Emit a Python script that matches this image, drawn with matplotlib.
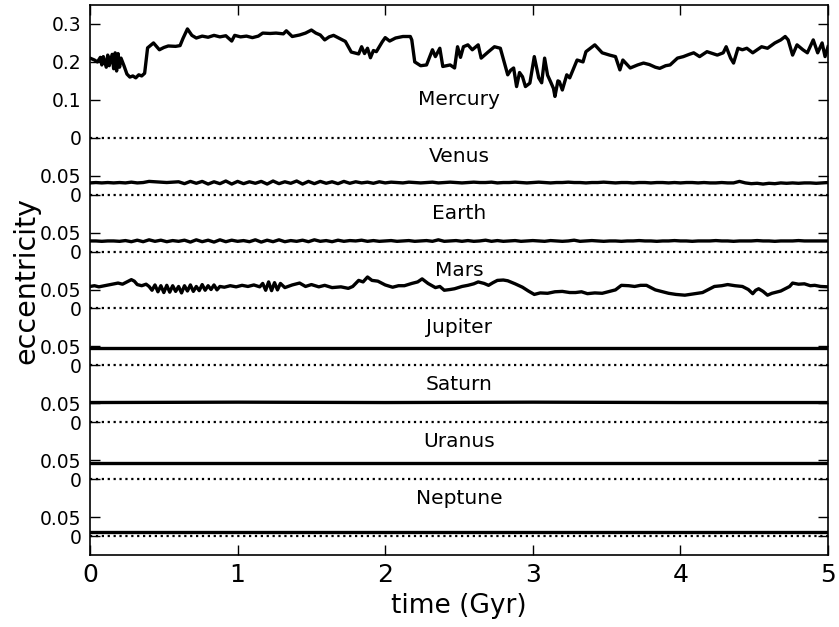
import numpy as np
import matplotlib
matplotlib.use("Agg")
import matplotlib.pyplot as plt

planets = ["Mercury", "Venus", "Earth", "Mars", "Jupiter", "Saturn", "Uranus", "Neptune"]
spacing = 0.15  # vertical offset between stacked planets below Mercury

merc_t = [0.00, 0.03, 0.05, 0.07, 0.08, 0.09, 0.11, 0.12, 0.13, 0.15, 0.16, 0.17, 0.18, 0.19,
          0.20, 0.21, 0.23, 0.25, 0.27, 0.29, 0.31, 0.33, 0.35, 0.37, 0.39, 0.43, 0.47, 0.50,
          0.53, 0.58, 0.61, 0.63, 0.66, 0.69, 0.72, 0.76, 0.80, 0.84, 0.88, 0.92, 0.96, 0.98,
          1.02, 1.06, 1.10, 1.14, 1.17, 1.22, 1.26, 1.31, 1.33, 1.37, 1.42, 1.46, 1.50, 1.53,
          1.56, 1.59, 1.62, 1.65, 1.68, 1.73, 1.77, 1.80, 1.82, 1.84, 1.86, 1.88, 1.90, 1.92,
          1.94, 1.98, 2.00, 2.03, 2.07, 2.12, 2.17, 2.18, 2.20, 2.24, 2.28, 2.32, 2.34, 2.37,
          2.39, 2.44, 2.47, 2.49, 2.51, 2.53, 2.56, 2.59, 2.63, 2.65, 2.70, 2.74, 2.78, 2.83,
          2.85, 2.87, 2.89, 2.91, 2.93, 2.95, 2.98, 3.01, 3.04, 3.06, 3.08, 3.10, 3.12, 3.14,
          3.15, 3.17, 3.18, 3.20, 3.23, 3.25, 3.30, 3.34, 3.36, 3.42, 3.47, 3.52, 3.56, 3.59,
          3.61, 3.66, 3.71, 3.75, 3.79, 3.83, 3.86, 3.90, 3.93, 3.98, 4.02, 4.06, 4.09, 4.13,
          4.18, 4.22, 4.25, 4.29, 4.31, 4.34, 4.36, 4.39, 4.42, 4.45, 4.49, 4.55, 4.59, 4.64,
          4.68, 4.71, 4.73, 4.76, 4.79, 4.83, 4.86, 4.90, 4.93, 4.96, 4.98, 5.00]
merc_e = [0.210, 0.205, 0.200, 0.212, 0.192, 0.214, 0.186, 0.218, 0.190, 0.220, 0.182, 0.224, 0.176, 0.222,
          0.186, 0.210, 0.190, 0.168, 0.160, 0.163, 0.158, 0.166, 0.163, 0.170, 0.237, 0.250, 0.232, 0.238,
          0.242, 0.241, 0.243, 0.262, 0.287, 0.270, 0.263, 0.268, 0.265, 0.270, 0.266, 0.269, 0.255, 0.270,
          0.266, 0.268, 0.264, 0.268, 0.276, 0.275, 0.276, 0.274, 0.282, 0.267, 0.271, 0.276, 0.284, 0.276,
          0.271, 0.258, 0.266, 0.270, 0.264, 0.254, 0.226, 0.223, 0.221, 0.240, 0.222, 0.236, 0.211, 0.230,
          0.227, 0.253, 0.264, 0.255, 0.263, 0.267, 0.267, 0.258, 0.200, 0.190, 0.192, 0.232, 0.214, 0.236,
          0.188, 0.192, 0.184, 0.240, 0.212, 0.240, 0.245, 0.232, 0.245, 0.210, 0.227, 0.240, 0.236, 0.166,
          0.178, 0.184, 0.135, 0.172, 0.161, 0.135, 0.144, 0.214, 0.158, 0.145, 0.210, 0.165, 0.148, 0.130,
          0.109, 0.150, 0.148, 0.126, 0.166, 0.158, 0.205, 0.200, 0.227, 0.245, 0.224, 0.218, 0.214, 0.179,
          0.205, 0.184, 0.192, 0.197, 0.193, 0.186, 0.183, 0.190, 0.192, 0.210, 0.214, 0.220, 0.224, 0.214,
          0.227, 0.222, 0.218, 0.224, 0.240, 0.210, 0.197, 0.236, 0.232, 0.236, 0.224, 0.240, 0.236, 0.250,
          0.258, 0.267, 0.258, 0.218, 0.245, 0.232, 0.224, 0.258, 0.224, 0.250, 0.214, 0.240]

# Venus and Earth sampled every 0.04 Gyr from 0 to 5
venus_e = [0.031, 0.032, 0.031, 0.032, 0.031, 0.032, 0.031, 0.033, 0.031, 0.032, 0.035, 0.034, 0.033,
           0.032, 0.033, 0.034, 0.029, 0.035, 0.030, 0.035, 0.028, 0.034, 0.029, 0.036, 0.028, 0.035,
           0.029, 0.034, 0.030, 0.035, 0.028, 0.036, 0.029, 0.034, 0.030, 0.036, 0.028, 0.035, 0.029,
           0.035, 0.030, 0.034, 0.029, 0.035, 0.030, 0.034, 0.031, 0.033, 0.030, 0.034, 0.031, 0.033,
           0.032, 0.031, 0.033, 0.032, 0.031, 0.032, 0.033, 0.031, 0.032, 0.033, 0.032, 0.031, 0.032,
           0.033, 0.032, 0.032, 0.033, 0.031, 0.032, 0.032, 0.033, 0.032, 0.031, 0.032, 0.033, 0.032,
           0.031, 0.032, 0.032, 0.033, 0.032, 0.032, 0.031, 0.032, 0.032, 0.033, 0.032, 0.031, 0.032,
           0.032, 0.031, 0.032, 0.032, 0.031, 0.032, 0.032, 0.031, 0.032, 0.031, 0.032, 0.032, 0.031,
           0.032, 0.031, 0.031, 0.032, 0.031, 0.031, 0.035, 0.031, 0.029, 0.030, 0.028, 0.030, 0.029,
           0.031, 0.030, 0.031, 0.030, 0.031, 0.031, 0.030, 0.031, 0.032]
earth_e = [0.028, 0.028, 0.027, 0.028, 0.028, 0.027, 0.029, 0.026, 0.030, 0.026, 0.031, 0.027, 0.030,
           0.026, 0.029, 0.027, 0.030, 0.025, 0.031, 0.026, 0.030, 0.025, 0.031, 0.026, 0.030, 0.027,
           0.029, 0.026, 0.031, 0.025, 0.030, 0.026, 0.031, 0.026, 0.029, 0.027, 0.030, 0.026, 0.031,
           0.027, 0.029, 0.026, 0.030, 0.027, 0.029, 0.028, 0.030, 0.027, 0.029, 0.027, 0.028, 0.029,
           0.027, 0.028, 0.029, 0.027, 0.028, 0.029, 0.027, 0.031, 0.027, 0.028, 0.029, 0.027, 0.029,
           0.027, 0.028, 0.030, 0.027, 0.029, 0.027, 0.028, 0.029, 0.027, 0.028, 0.029, 0.028, 0.027,
           0.029, 0.028, 0.027, 0.028, 0.030, 0.027, 0.028, 0.029, 0.028, 0.027, 0.028, 0.028, 0.027,
           0.028, 0.028, 0.029, 0.028, 0.028, 0.027, 0.028, 0.028, 0.029, 0.028, 0.028, 0.027, 0.028,
           0.028, 0.028, 0.029, 0.028, 0.028, 0.027, 0.028, 0.028, 0.028, 0.029, 0.028, 0.028, 0.027,
           0.028, 0.028, 0.028, 0.029, 0.028, 0.028, 0.028, 0.028, 0.028]

mars_t = [0.00, 0.03, 0.06, 0.10, 0.14, 0.19, 0.22, 0.25, 0.28, 0.30, 0.32, 0.35, 0.38, 0.40,
          0.42, 0.44, 0.46, 0.48, 0.50, 0.52, 0.54, 0.56, 0.58, 0.60, 0.62, 0.64, 0.66, 0.68,
          0.70, 0.72, 0.74, 0.76, 0.78, 0.80, 0.82, 0.84, 0.86, 0.88, 0.91, 0.95, 0.99, 1.03,
          1.07, 1.11, 1.15, 1.17, 1.19, 1.21, 1.23, 1.25, 1.27, 1.29, 1.32, 1.37, 1.42, 1.46,
          1.50, 1.55, 1.59, 1.64, 1.70, 1.75, 1.78, 1.82, 1.85, 1.88, 1.91, 1.95, 2.00, 2.05,
          2.09, 2.13, 2.18, 2.22, 2.25, 2.29, 2.34, 2.37, 2.40, 2.44, 2.47, 2.52, 2.56, 2.60,
          2.63, 2.67, 2.70, 2.73, 2.76, 2.80, 2.83, 2.88, 2.93, 2.97, 3.01, 3.05, 3.10, 3.15,
          3.20, 3.25, 3.29, 3.33, 3.37, 3.42, 3.47, 3.51, 3.56, 3.60, 3.65, 3.69, 3.73, 3.77,
          3.80, 3.83, 3.88, 3.92, 3.97, 4.03, 4.08, 4.15, 4.19, 4.23, 4.28, 4.32, 4.37, 4.42,
          4.46, 4.49, 4.51, 4.53, 4.56, 4.59, 4.62, 4.64, 4.68, 4.71, 4.74, 4.76, 4.80, 4.84,
          4.88, 4.91, 4.95, 5.00]
mars_e = [0.058, 0.060, 0.057, 0.060, 0.063, 0.067, 0.064, 0.070, 0.076, 0.072, 0.063, 0.060, 0.064, 0.058,
          0.048, 0.062, 0.044, 0.060, 0.042, 0.061, 0.043, 0.060, 0.045, 0.058, 0.041, 0.060, 0.046, 0.062,
          0.045, 0.058, 0.047, 0.063, 0.048, 0.060, 0.050, 0.062, 0.049, 0.058, 0.056, 0.060, 0.057, 0.061,
          0.058, 0.062, 0.057, 0.066, 0.048, 0.070, 0.047, 0.068, 0.049, 0.066, 0.055, 0.062, 0.067, 0.058,
          0.063, 0.057, 0.061, 0.055, 0.057, 0.053, 0.058, 0.074, 0.070, 0.083, 0.074, 0.072, 0.062, 0.056,
          0.060, 0.060, 0.066, 0.070, 0.078, 0.066, 0.055, 0.058, 0.048, 0.050, 0.052, 0.058, 0.061, 0.065,
          0.070, 0.066, 0.061, 0.068, 0.074, 0.075, 0.073, 0.065, 0.056, 0.046, 0.037, 0.041, 0.040, 0.044,
          0.045, 0.042, 0.042, 0.044, 0.039, 0.041, 0.040, 0.044, 0.049, 0.061, 0.060, 0.058, 0.061, 0.061,
          0.055, 0.049, 0.044, 0.040, 0.037, 0.035, 0.038, 0.042, 0.050, 0.058, 0.060, 0.063, 0.060, 0.058,
          0.050, 0.039, 0.048, 0.052, 0.045, 0.035, 0.040, 0.042, 0.046, 0.052, 0.058, 0.067, 0.064, 0.065,
          0.060, 0.061, 0.058, 0.057]

# outer planets barely move, sampled once per Gyr
outer_t = [0, 1, 2, 3, 4, 5]
jupiter_e = [0.046, 0.046, 0.046, 0.046, 0.046, 0.046]
saturn_e = [0.052, 0.053, 0.052, 0.053, 0.052, 0.052]
uranus_e = [0.043, 0.043, 0.043, 0.043, 0.043, 0.043]
neptune_e = [0.010, 0.010, 0.010, 0.010, 0.010, 0.010]

grid_t = np.linspace(0, 5, len(venus_e))
series = [(merc_t, merc_e), (grid_t, venus_e), (grid_t, earth_e), (mars_t, mars_e),
          (outer_t, jupiter_e), (outer_t, saturn_e), (outer_t, uranus_e), (outer_t, neptune_e)]

fig = plt.figure(figsize=(8.39, 6.27), dpi=100)
ax = fig.add_axes([0.1073, 0.1148, 0.8796, 0.8772])

yticks, ylabels = [0.1, 0.2, 0.3], ["0.1", "0.2", "0.3"]
for i, (name, (t, e)) in enumerate(zip(planets, series)):
    off = -spacing * i
    ax.plot(t, np.asarray(e) + off, color="black", lw=2.4)
    ax.axhline(off, color="black", ls=":", lw=1.6)
    ax.text(2.5, off + 0.1, name, ha="center", va="center", fontsize=14.5)
    yticks += [off]
    ylabels += ["0"]
    if i > 0:
        yticks += [off + 0.05]
        ylabels += ["0.05"]

ax.set_xlim(0, 5)
ax.set_ylim(-1.10, 0.35)
ax.set_yticks(yticks)
ax.set_yticklabels(ylabels)
ax.set_xticks([0, 1, 2, 3, 4, 5])
ax.tick_params(axis="y", direction="in", length=7, width=1, labelsize=13.5, right=True, pad=6)
ax.tick_params(axis="x", direction="in", length=7, width=1, labelsize=18, top=True, pad=6)
for s in ax.spines.values():
    s.set_linewidth(1.2)

ax.set_xlabel("time (Gyr)", fontsize=19)
ax.set_ylabel("eccentricity", fontsize=20.5, labelpad=0)

fig.savefig("out.png", dpi=100)
